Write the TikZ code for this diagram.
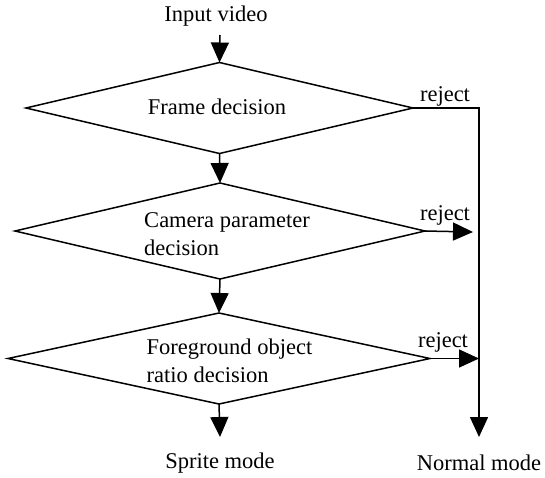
\documentclass[tikz,border=0pt]{standalone}
\usepackage{fontspec}
\setmainfont{Liberation Serif}
\usetikzlibrary{shapes.geometric,arrows.meta}
\begin{document}
\begin{tikzpicture}[x=1pt,y=-1pt,
  line width=1.5pt,
  dec/.style={diamond,draw,inner sep=0pt,outer sep=0pt},
  lbl/.style={font=\fontsize{22.5}{28}\selectfont,inner sep=0pt},
  arr/.style={-{Triangle[length=20pt,width=18pt]}}]
\useasboundingbox (0,0) rectangle (545,477);
\node[dec,minimum width=387pt,minimum height=91pt] (d1) at (219.5,108) {};
\node[dec,minimum width=410pt,minimum height=96pt] (d2) at (220,231) {};
\node[dec,minimum width=422pt,minimum height=91pt] (d3) at (219,358.5) {};
\node[lbl] (t1) at (217,107) {Frame decision};
\node[lbl,align=left] (t2) at (227,234) {Camera parameter\\decision};
\node[lbl,align=left] (t3) at (229.5,361) {Foreground object\\ratio decision};
\node[lbl] (in) at (216,16) {Input video};
\node[lbl] (sp) at (220,463) {Sprite mode};
\node[lbl] (nm) at (479,463) {Normal mode};
\coordinate (inT) at (220,35);
\coordinate (c1) at (479,108);
\coordinate (c2) at (473,232);
\coordinate (c3) at (479,358.5);
\coordinate (nmT) at (479,437);
\coordinate (spT) at (220,437);
\draw[arr] (inT) -- (d1.north);
\draw[arr] (d1.south) -- (d2.north);
\draw[arr] (d2.south) -- (d3.north);
\draw[arr] (d3.south) -- (spT);
\draw[arr] (d1.east) -- (c1) -- (nmT);
\draw[arr] (d2.east) -- (c2);
\draw[arr] (d3.east) -- (c3);
\node[lbl] (r1) at (445,96) {reject};
\node[lbl] (r2) at (445,215) {reject};
\node[lbl] (r3) at (443,342) {reject};
\end{tikzpicture}
\end{document}
